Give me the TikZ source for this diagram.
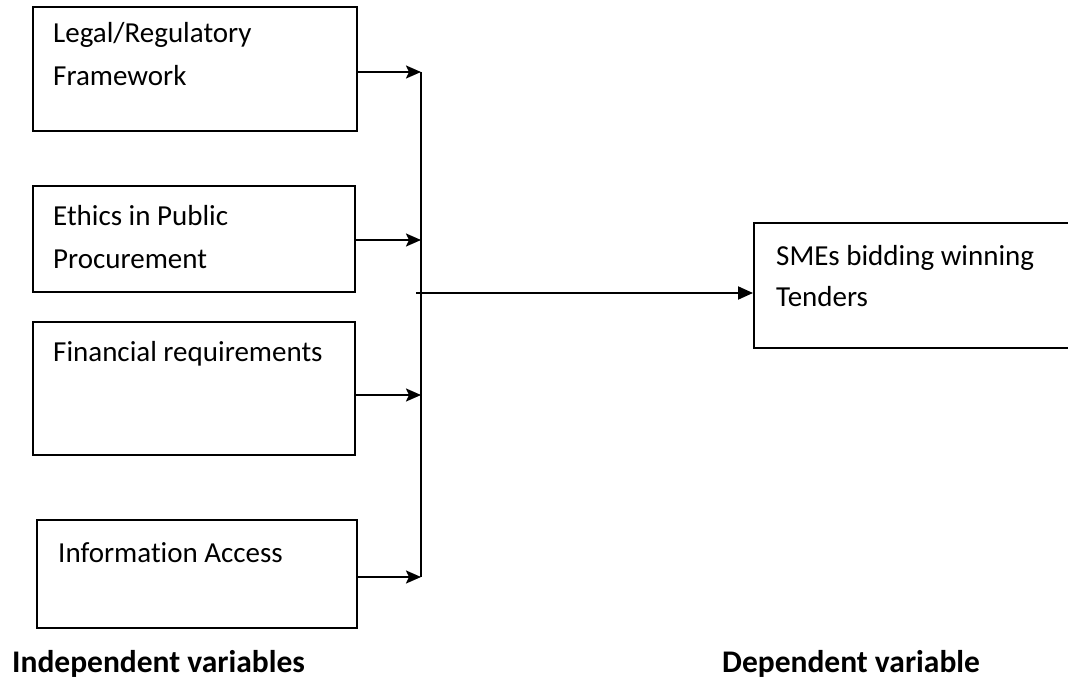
\documentclass[tikz,border=0pt]{standalone}
\usepackage{fontspec}
\setmainfont{Carlito}[Ligatures=NoCommon]
\usetikzlibrary{arrows.meta}
\begin{document}
\begin{tikzpicture}[x=1bp,y=-1bp,
  box/.style={draw, line width=2bp, inner sep=0pt},
  lbl/.style={anchor=base west, inner sep=0pt, font=\fontsize{29bp}{43bp}\selectfont},
  blbl/.style={anchor=base west, inner sep=0pt, font=\fontsize{31.5bp}{43bp}\selectfont\bfseries},
  conn/.style={line width=2bp, -{Stealth[length=15bp,width=13bp,inset=3bp]}},
  mainconn/.style={line width=2bp, -{Triangle[length=15bp,width=13bp]}}]
\useasboundingbox (0,0) rectangle (1068,685);
% boxes
\node[box, minimum width=324bp, minimum height=124bp] (b1) at (195,69) {};
\node[box, minimum width=322bp, minimum height=106bp] (b2) at (194,239) {};
\node[box, minimum width=322bp, minimum height=133bp] (b3) at (194,388.5) {};
\node[box, minimum width=320bp, minimum height=108bp] (b4) at (197,574) {};
\node[box, minimum width=316bp, minimum height=125bp] (dv) at (912,285.5) {};
% texts
\node[lbl] (t1a) at (53,43) {Legal/Regulatory};
\node[lbl] (t1b) at (53,86) {Framework};
\node[lbl] (t2a) at (53,225) {Ethics in Public};
\node[lbl] (t2b) at (53,268) {Procurement};
\node[lbl] (t3) at (53,361) {Financial requirements};
\node[lbl] (t4) at (58,562) {Information Access};
\node[lbl] (t5a) at (776,265) {SMEs bidding winning};
\node[lbl] (t5b) at (776,306) {Tenders};
\node[blbl] (iv) at (12,672) {Independent variables};
\node[blbl] (dvl) at (722,672) {Dependent variable};
% bus
\coordinate (bt) at (421,72);
\coordinate (bb) at (421,577);
\coordinate (bm) at (416,293);
\draw[line width=2bp] (bt) -- (bb);
\draw[conn] (b1.east |- bt) -- (bt);
\draw[conn] (b2.east |- 0,240) -- (421,240);
\draw[conn] (b3.east |- 0,395) -- (421,395);
\draw[conn] (b4.east |- bb) -- (bb);
\draw[mainconn] (bm) -- (dv.west |- bm);
\end{tikzpicture}
\end{document}
